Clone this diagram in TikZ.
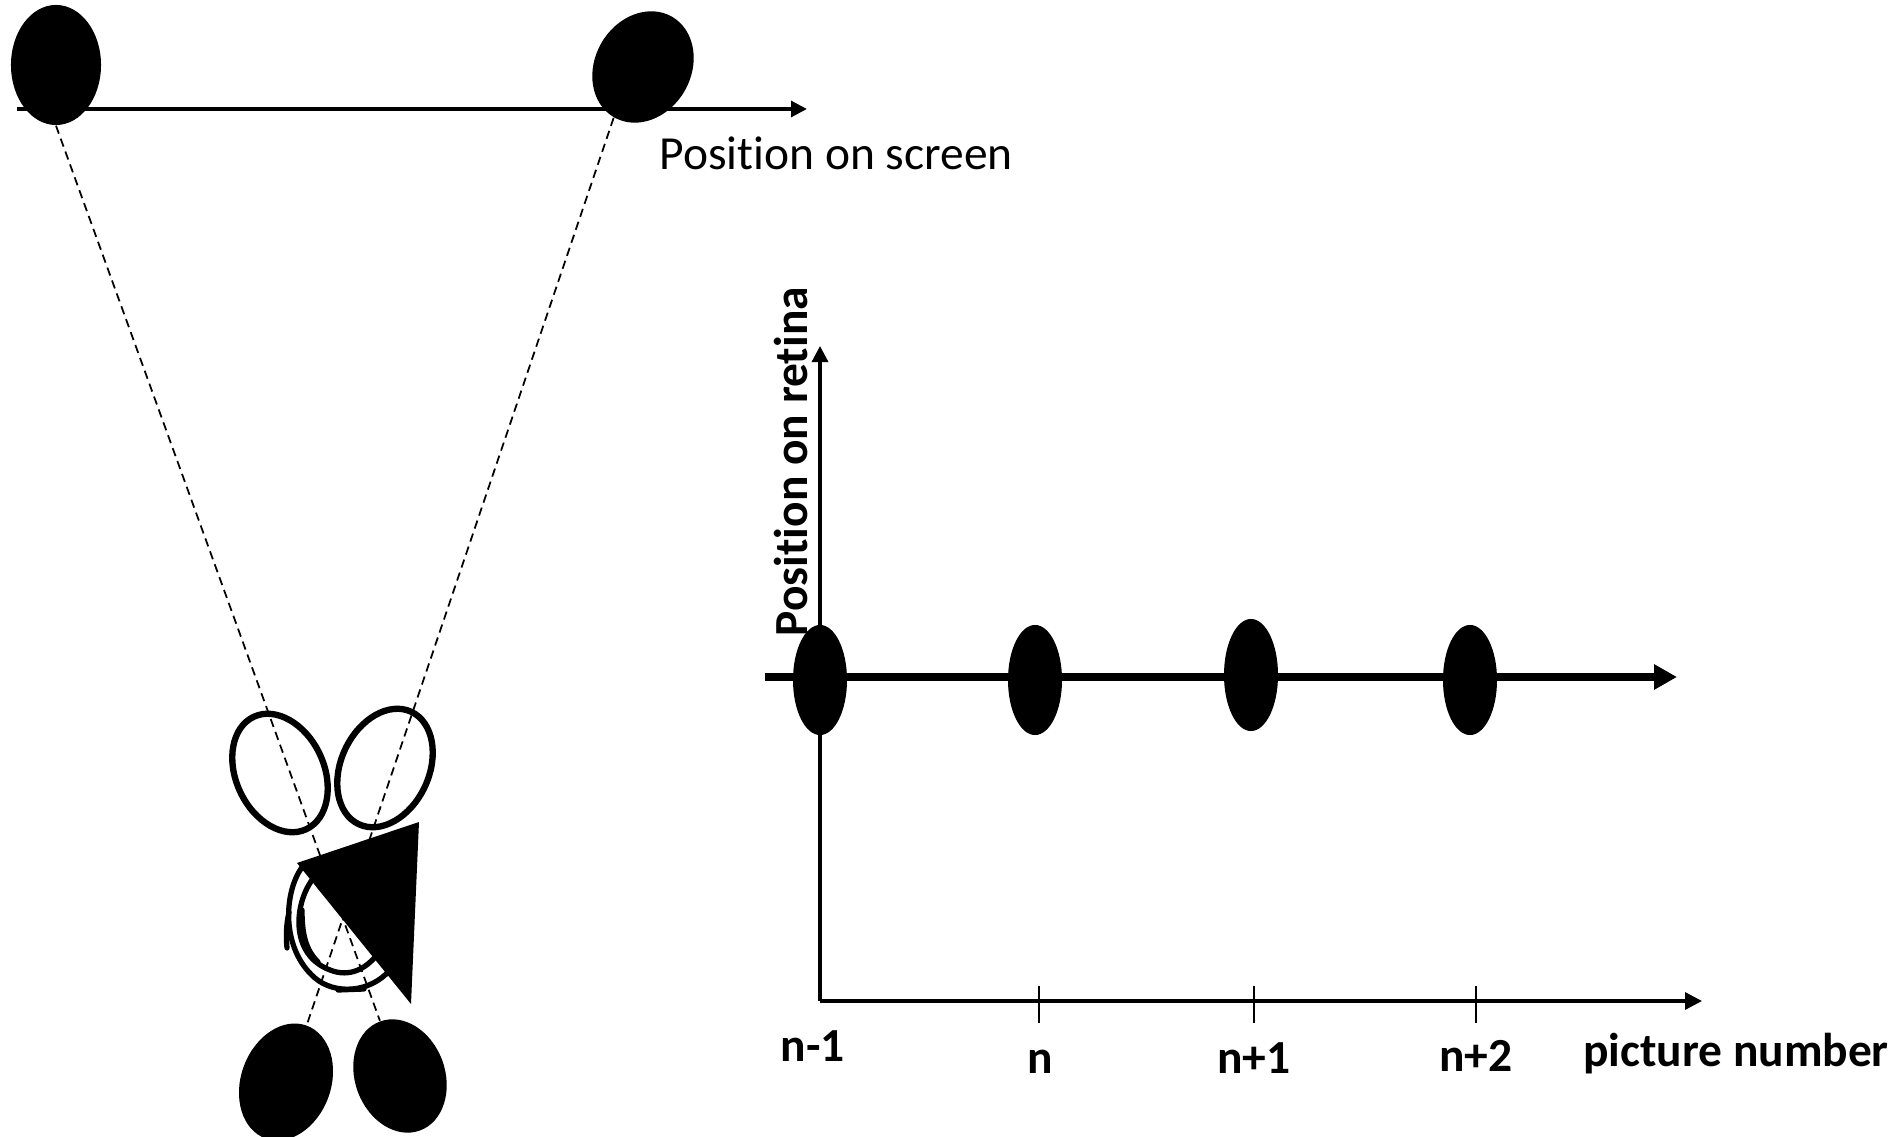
\documentclass[tikz,border=0pt]{standalone}
\usepackage{fontspec}
\setmainfont{Carlito}[Ligatures=NoCommon]
\usetikzlibrary{arrows.meta,shapes.geometric}
\tikzset{
	blob/.style={ellipse, fill=black, inner sep=0pt},
	ring/.style={ellipse, draw, line width=1.8pt, inner sep=0pt},
	ray/.style={line width=0.5pt, dash pattern=on 2.4pt off 1.5pt},
	scrawl/.style={line width=1.5pt, line cap=round},
	txt/.style={font=\fontsize{13.5}{16}\selectfont, inner sep=0pt},
	lbl/.style={txt, font=\fontsize{13.5}{16}\selectfont\bfseries, anchor=base},
}
\begin{document}
\begin{tikzpicture}[x=0.01cm, y=0.01cm]
	\useasboundingbox (0,0) rectangle (1903,-1137);

	% screen
	\coordinate (scrA) at (17,-109);
	\coordinate (scrB) at (807,-109);
	\draw[line width=1.2pt, -{Triangle[length=4.5pt, width=4.4pt]}] (scrA) -- (scrB);
	\node[blob, minimum width=0.9cm, minimum height=1.2cm] (scrL) at (56,-65) {};
	\node[blob, minimum width=0.96cm, minimum height=1.16cm, rotate=-30] (scrR) at (643,-67) {};
	\node[txt, anchor=base west] (scrlbl) at (659,-170) {Position on screen};

	% eyes
	\node[ring, minimum width=0.88cm, minimum height=1.24cm, rotate=25] (ringL) at (280,-773) {};
	\node[ring, minimum width=0.88cm, minimum height=1.24cm, rotate=-25] (ringR) at (385,-768) {};
	\node[blob, minimum width=0.9cm, minimum height=1.2cm, rotate=-20] (eyeL) at (286,-1082) {};
	\node[blob, minimum width=0.9cm, minimum height=1.16cm, rotate=20] (eyeR) at (400,-1076) {};
	\draw[ray] (scrL.south) -- (eyeR.north);
	\draw[ray] (scrR.south) -- (eyeL.north);

	% scribble and triangle
	\draw[scrawl] (303,-866) .. controls (284,-890) and (280,-948) .. (315,-978) .. controls (335,-995) and (370,-993) .. (390,-970);
	\draw[scrawl] (312,-880) .. controls (294,-905) and (290,-955) .. (330,-970) .. controls (350,-978) and (366,-968) .. (376,-956);
	\draw[scrawl] (302,-910) .. controls (302,-935) and (306,-950) .. (318,-962);
	\draw[scrawl] (289,-912) .. controls (286,-925) and (286,-938) .. (287,-948);
	\draw[scrawl] (338,-990) -- (364,-989);
	\fill (297,-863) -- (419,-822) -- (411,-1004) -- cycle;

	% retina graph
	\coordinate (org) at (820,-1001);
	\coordinate (ytop) at (820,-346);
	\coordinate (xend) at (1702,-1001);
	\coordinate (midA) at (765,-677);
	\coordinate (midB) at (1677,-677);
	\draw[line width=0.9pt, -{Triangle[length=4.6pt, width=4.6pt]}] (org) -- (ytop);
	\draw[line width=0.9pt, -{Triangle[length=4.8pt, width=4.8pt]}] (org) -- (xend);
	\draw[line width=2pt, -{Triangle[length=6.5pt, width=6.8pt]}] (midA) -- (midB);
	\foreach \x in {1039,1254,1476}
		\draw[line width=0.8pt] (\x,-986) -- (\x,-1023);
	\node[blob, minimum width=0.54cm, minimum height=1.1cm] (f1) at (820,-680) {};
	\node[blob, minimum width=0.54cm, minimum height=1.1cm] (f2) at (1035,-680) {};
	\node[blob, minimum width=0.54cm, minimum height=1.12cm] (f3) at (1251,-675) {};
	\node[blob, minimum width=0.54cm, minimum height=1.1cm] (f4) at (1470,-680) {};

	\node[txt, font=\fontsize{13.5}{16}\selectfont\bfseries, rotate=90, anchor=base west] (retlbl) at (807,-637) {Position on retina};
	\node[lbl] (t1) at (813,-1061) {n-1};
	\node[lbl] (t2) at (1040,-1073) {n};
	\node[lbl] (t3) at (1254,-1073) {n+1};
	\node[lbl] (t4) at (1476,-1071) {n+2};
	\node[lbl] (xlbl) at (1736,-1066) {picture number};
\end{tikzpicture}
\end{document}
